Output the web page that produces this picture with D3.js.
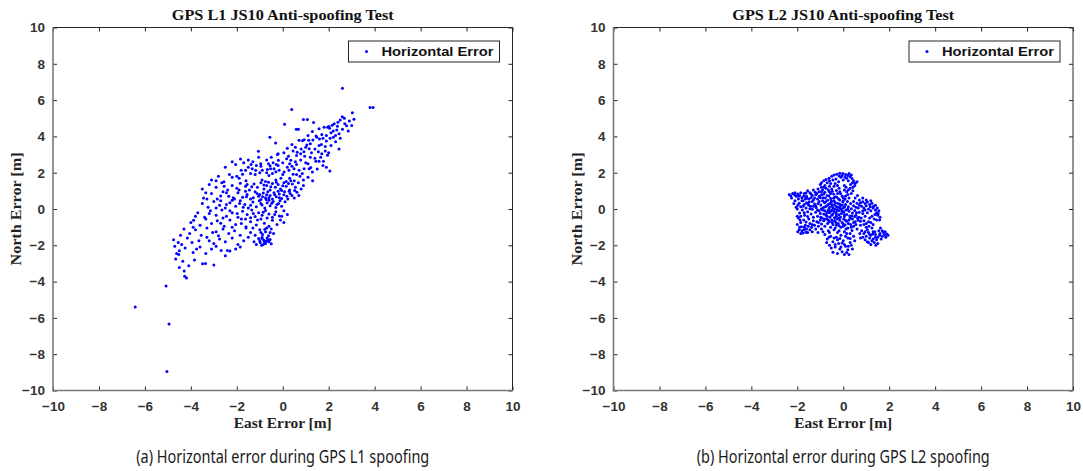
<!DOCTYPE html>
<html>
<head>
<meta charset="utf-8">
<script src="https://cdn.jsdelivr.net/npm/d3@7/dist/d3.min.js"></script>
<style>
  html, body { margin: 0; padding: 0; background: #fff; }
  svg { display: block; }
</style>
</head>
<body>
<svg id="chart" width="1083" height="471"></svg>
<script>
// Axis ticks (metres)
const tickValues = [-10, -8, -6, -4, -2, 0, 2, 4, 6, 8, 10];
const axisDomain = [-10, 10];

// Panel texts
const titles = ["GPS L1 JS10 Anti-spoofing Test", "GPS L2 JS10 Anti-spoofing Test"];
const captions = ["(a) Horizontal error during GPS L1 spoofing", "(b) Horizontal error during GPS L2 spoofing"];
const xLabel = "East Error [m]";
const yLabel = "North Error [m]";
const legendLabel = "Horizontal Error";

// Horizontal error samples, L1 spoofing: [east, north] in metres
const l1Errors = [
  [2.6,6.65],[3.8,5.59],[3.93,5.59],[3.03,5.3],[0.39,5.48],[0.9,4.93],[1.07,4.93],[1.34,4.76],[0.08,4.67],
  [2.24,4.7],[2.4,4.78],[2.59,5.08],[2.68,5.0],[2.78,4.58],[2.38,4.56],[2.15,4.62],[1.95,4.5],[2.9,4.85],
  [2.5,4.9],[3.1,4.95],[2.0,4.55],[2.7,4.7],
  [0.59,4.4],[0.68,4.4],[1.29,4.27],[1.58,4.42],[1.8,4.5],[2.04,4.45],[2.2,4.3],[2.45,4.15],[1.7,4.1],
  [1.9,4.05],[2.1,4.2],[2.35,4.35],[1.45,4.02],[2.6,4.4],[1.1,4.05],
  [-0.56,3.95],[-0.31,3.64],[0.71,3.79],[0.86,3.76],[0.93,3.81],[1.13,3.79],[1.31,3.8],[1.48,3.95],
  [1.6,3.85],[1.75,3.9],[1.9,3.75],[2.06,3.9],[1.58,3.5],[1.68,3.55],[1.2,3.6],[0.4,3.55],[2.3,3.7],
  [1.05,3.52],[2.2,3.95],
  [-1.06,3.18],[1.0,3.4],[1.15,3.32],[0.63,3.12],[0.78,3.05],[0.92,3.15],[0.45,3.2],[1.4,3.3],[1.7,3.05],
  [0.2,3.35],[-0.2,3.05],[0.05,3.1],[1.25,3.1],[0.55,3.4],[1.85,3.45],
  [-0.23,3.0],[-0.19,2.68],[0.17,2.77],[0.35,2.68],[0.55,2.6],[0.78,2.7],[1.95,2.96],[1.44,2.63],[1.58,2.63],
  [1.77,2.63],[-1.84,2.75],[-1.5,2.7],[-1.38,2.45],[-1.15,2.4],[-0.96,2.5],[-0.7,2.7],[-0.62,2.5],
  [-0.42,2.55],[-0.28,2.45],[0.0,2.55],[0.95,2.9],[1.2,2.85],[-1.05,2.85],[-2.2,2.6],[0.6,2.95],[1.0,2.55],
  [-2.32,1.9],[-2.0,1.8],[-1.81,2.13],[-1.62,2.13],[-1.33,2.22],[-1.18,2.13],[-0.89,2.13],[-0.67,2.17],
  [-0.53,2.22],[-0.38,2.22],[-0.16,2.13],[0.06,2.04],[0.27,2.13],[0.49,2.22],[0.71,2.13],[0.93,2.22],
  [1.15,2.22],[1.29,2.04],[1.22,2.28],[-0.95,2.35],[-0.2,2.4],[0.4,2.35],[-1.5,2.3],[0.85,1.95],
  [1.9,2.3],[2.05,2.1],[1.75,2.4],
  [-2.56,1.5],[-2.2,1.75],[-1.9,1.7],[-1.6,1.55],[-1.2,1.9],[-0.9,1.6],[-0.6,1.85],[-0.3,1.6],[0.0,1.9],
  [0.3,1.7],[0.5,1.55],[0.75,1.8],[0.9,1.6],[-1.4,1.95],[-0.45,1.95],[0.15,1.52],[-2.9,1.55],[-0.75,1.52],
  [0.6,1.9],[-1.75,1.92],
  [-3.5,1.1],[-3.2,1.35],[-2.9,1.2],[-2.65,1.45],[-2.4,1.05],[-2.2,1.3],[-2.0,1.15],[-1.85,1.42],[-1.62,1.25],
  [-1.45,1.05],[-1.25,1.38],[-1.1,1.2],[-0.95,1.45],[-0.82,1.1],[-0.7,1.3],[-0.55,1.05],[-0.45,1.4],
  [-0.32,1.2],[-0.2,1.35],[-0.1,1.1],[0.05,1.45],[0.15,1.25],[0.3,1.05],[0.42,1.38],[0.55,1.2],[0.68,1.45],
  [0.8,1.1],[-0.62,1.48],[-1.35,1.22],[0.25,1.4],[-0.05,1.02],[-2.55,1.25],
  [-3.45,0.6],[-3.1,0.85],[-2.85,0.55],[-2.6,0.95],[-2.35,0.7],[-2.1,0.55],[-1.95,0.9],[-1.75,0.65],
  [-1.55,0.8],[-1.4,0.55],[-1.2,0.95],[-1.05,0.7],[-0.95,0.52],[-0.85,0.88],[-0.75,0.62],[-0.65,0.95],
  [-0.55,0.75],[-0.45,0.55],[-0.38,0.9],[-0.28,0.68],[-0.15,0.82],[-0.05,0.58],[0.08,0.95],[0.18,0.7],
  [0.32,0.85],[0.5,0.6],[0.62,0.92],[-1.0,0.8],[-0.7,0.78],[-0.2,0.98],[-1.62,0.98],[-2.7,0.72],
  [-3.5,0.3],[-3.25,0.1],[-3.0,0.42],[-2.75,0.2],[-2.5,0.05],[-2.3,0.35],[-2.05,0.15],[-1.85,0.45],
  [-1.65,0.25],[-1.5,0.05],[-1.3,0.38],[-1.15,0.12],[-1.02,0.45],[-0.9,0.22],[-0.78,0.05],[-0.68,0.35],
  [-0.55,0.18],[-0.42,0.42],[-0.3,0.08],[-0.18,0.3],[-0.05,0.15],[0.1,0.4],[-0.95,0.3],[-0.6,0.48],
  [-2.2,0.48],[-1.4,0.2],
  [-3.7,-0.2],[-3.4,-0.45],[-3.15,-0.1],[-2.9,-0.35],[-2.65,-0.05],[-2.45,-0.4],[-2.2,-0.2],[-1.95,-0.45],
  [-1.75,-0.12],[-1.55,-0.3],[-1.35,-0.05],[-1.2,-0.42],[-1.05,-0.2],[-0.9,-0.35],[-0.75,-0.08],
  [-0.6,-0.28],[-0.45,-0.45],[-0.3,-0.15],[-0.15,-0.38],[0.05,-0.1],[0.2,-0.3],[-1.4,-0.48],[-2.3,-0.1],
  [-3.88,-0.62],[-3.6,-0.9],[-3.35,-0.55],[-3.1,-0.8],[-2.85,-0.65],[-2.55,-0.95],[-2.3,-0.6],[-2.05,-0.85],
  [-1.8,-0.55],[-1.6,-0.98],[-1.4,-0.7],[-1.15,-0.88],[-0.95,-0.55],[-0.8,-0.78],[-0.6,-0.95],[-0.45,-0.62],
  [-0.25,-0.85],[-0.1,-0.6],[0.05,-0.75],[-2.7,-0.78],
  [-4.3,-1.1],[-4.05,-1.35],[-3.8,-1.15],[-3.55,-1.45],[-3.3,-1.05],[-3.05,-1.3],[-2.8,-1.48],[-2.6,-1.1],
  [-2.35,-1.35],[-2.1,-1.2],[-1.85,-1.45],[-1.6,-1.05],[-1.4,-1.3],[-1.2,-1.45],[-1.0,-1.15],[-0.88,-1.4],
  [-0.75,-1.25],[-0.62,-1.48],[-0.5,-1.1],[-0.4,-1.35],[-0.95,-1.3],[-0.7,-1.05],
  [-4.75,-1.7],[-4.4,-1.95],[-4.15,-1.6],[-3.95,-1.85],[-3.65,-1.75],[-3.3,-1.55],[-3.0,-1.9],[-2.75,-1.65],
  [-2.5,-1.8],[-2.2,-1.6],[-1.95,-1.95],[-1.7,-1.75],[-1.5,-1.55],[-1.25,-1.8],[-1.05,-1.62],[-0.98,-1.85],
  [-0.9,-1.55],[-0.82,-1.72],[-0.75,-1.9],[-0.68,-1.6],[-0.6,-1.8],[-0.55,-1.68],[-0.85,-1.95],[-0.72,-1.78],
  [-4.7,-2.05],[-4.5,-2.3],[-4.25,-2.15],[-3.9,-2.4],[-3.6,-2.1],[-3.35,-2.45],[-3.1,-2.2],[-2.68,-2.28],
  [-2.41,-2.28],[-2.3,-2.32],[-2.05,-2.2],[-1.85,-2.1],[-2.9,-2.05],[-4.62,-2.45],[-4.53,-2.5],
  [-2.5,-2.57],[-4.66,-2.75],[-4.35,-2.88],[-4.09,-3.12],[-3.84,-2.81],[-3.49,-3.01],[-3.36,-3.0],
  [-3.0,-3.08],[-4.5,-3.23],[-4.29,-3.42],[-4.27,-3.71],[-4.19,-3.8],[-5.08,-4.24],[-6.42,-5.4],
  [-4.95,-6.33],[-5.04,-8.96],
  [-2.45,0.9],[-2.15,0.62],[-1.88,0.3],[-1.58,0.68],[-1.28,0.62],[-1.12,0.85],[-0.88,0.68],[-0.6,0.62],
  [-0.35,0.78],[-0.12,0.45],[0.22,0.55],[0.4,0.75],[-0.82,1.32],[-0.52,1.22],[-0.28,1.48],[0.0,1.28],
  [0.35,1.55],[-1.55,1.35],[-1.9,1.05],[-2.7,0.45],[-3.2,-0.25],[-2.6,-0.5],[-1.98,-0.25],[-1.62,-0.55],
  [-1.1,-0.6],[-0.68,-0.5],[-0.35,-0.3],[-0.05,-0.4],[-0.85,-0.18],[-1.28,-0.25],[-1.8,-0.8],[-2.2,-1.0],
  [-1.3,-1.05],[-0.78,-1.12],[-0.55,-1.3],[-0.9,-1.62],[-0.65,-1.7],[-0.8,-1.82],[-1.0,-1.75],[-0.5,-1.92],
  [-1.15,-1.95],[-0.92,-2.0],[-3.2,-1.75],[-2.9,-1.25],[-3.9,-1.0],[-4.55,-1.85],[-3.75,-2.2],[-0.25,0.25],
  [-0.48,0.32],[-0.72,0.52],[-0.15,0.62],[0.05,0.78],[0.28,0.98],[0.52,1.02],[0.7,0.75],[-1.72,0.1],
  [-2.45,0.25],[-2.9,0.05],[-3.3,0.55],[-0.7,2.0],[-0.3,2.05],[0.2,2.3],[0.6,2.45],[1.1,2.5],[1.4,2.8],
  [1.55,3.15],[2.1,3.5],[2.5,3.9],[2.85,4.3],[3.0,4.6],[2.3,4.05],[0.8,3.3],[0.25,2.9],[-0.5,2.85],
  [-1.3,2.6],[-2.5,2.3],[-2.8,1.8],[-3.1,1.6],[-3.35,0.9],[-3.8,-0.4],[-4.0,-0.75],[-4.45,-1.45],[0.9,1.3],
  [1.1,1.75],[1.3,1.55],[1.5,2.2],[-0.08,1.7],[0.45,1.92],[-1.0,2.0],[-2.05,2.45],[-1.7,2.55],[-0.55,2.38],
  [0.3,2.5],[1.65,2.85],[1.85,3.2],[2.45,3.3],[2.0,3.1]
];

// Horizontal error samples, L2 spoofing: [east, north] in metres
const l2Errors = [
  [-0.95,1.45],[-0.85,1.55],[-0.75,1.62],[-0.62,1.7],[-0.5,1.8],[-0.4,1.88],[-0.28,1.92],[-0.15,1.97],
  [-0.02,1.95],[0.1,1.9],[0.2,1.85],[0.3,1.78],[0.38,1.68],[0.45,1.55],[0.52,1.42],[0.5,1.3],[0.42,1.2],
  [0.3,1.15],[-0.1,1.75],[0.0,1.6],[-0.2,1.5],[-0.35,1.4],[-0.6,1.25],[-0.8,1.3],[-0.05,1.85],[0.15,1.7],
  [-0.45,1.6],[-0.7,1.45],[0.25,1.95],[0.35,1.88],
  [-2.35,0.8],[-2.2,0.85],[-2.05,0.7],[-2.1,0.9],[-1.9,0.75],[-1.8,0.62],[-1.7,0.85],[-1.6,0.7],[-1.5,0.55],
  [-1.45,0.9],[-1.35,0.75],[-1.25,0.6],[-1.15,0.85],[-1.05,0.7],[-0.95,0.95],[-1.95,0.55],[-1.55,1.0],
  [-1.3,1.05],[-1.1,1.1],[-0.9,1.05],[-2.25,0.6],[-1.75,0.45],
  [-1.92,0.32],[-1.85,0.12],[-1.78,-0.05],[-1.9,-0.22],[-1.7,0.25],[-1.62,0.05],[-1.55,-0.15],[-1.68,-0.35],
  [-1.48,0.38],[-1.42,0.15],[-1.35,-0.02],[-1.4,-0.28],[-1.3,0.5],[-1.25,0.28],[-1.18,0.08],[-1.2,-0.18],
  [-1.12,-0.4],[-1.05,0.42],[-0.98,0.22],[-0.95,0.02],[-1.0,-0.25],[-0.92,-0.5],[-0.88,0.62],[-0.82,0.35],
  [-0.78,0.12],[-0.8,-0.1],[-0.75,-0.35],[-0.7,0.75],[-0.68,0.48],[-0.65,0.25],[-0.62,0.02],[-0.6,-0.2],
  [-0.58,-0.45],[-0.55,0.58],[-0.52,0.38],[-0.5,0.15],[-0.48,-0.05],[-0.45,-0.28],[-0.42,0.82],[-0.4,0.45],
  [-0.38,0.22],[-0.35,0.0],[-0.32,-0.18],[-0.3,-0.4],[-0.28,0.65],[-0.25,0.32],[-0.22,0.1],[-0.2,-0.1],
  [-0.18,-0.32],[-0.15,0.5],[-0.12,0.18],[-0.1,-0.02],[-0.08,-0.25],[-0.05,0.72],[-0.02,0.38],[0.0,0.05],
  [0.02,-0.15],[0.05,-0.42],[0.08,0.55],[0.1,0.25],[0.12,-0.05],[0.15,-0.3],[0.18,0.42],[0.22,0.12],
  [0.25,-0.12],[0.28,-0.38],[0.32,0.3],[0.35,0.02],[0.4,-0.22],[0.45,0.18],[0.5,-0.08],[0.55,-0.35],
  [0.6,0.32],[0.65,0.05],[0.7,-0.18],
  [-0.72,0.18],[-0.58,0.3],[-0.44,0.05],[-0.36,0.36],[-0.26,-0.04],[-0.16,0.28],[-0.66,-0.08],[-0.52,0.46],
  [-0.4,-0.14],[-0.3,0.14],[-0.86,0.08],[-0.76,0.4],[-0.14,0.06],[-0.04,0.22],[0.06,0.12],[-0.48,0.24],
  [-1.95,-0.5],[-1.85,-0.75],[-1.9,-1.0],[-1.8,-1.2],[-1.72,-0.6],[-1.65,-0.9],[-1.6,-1.1],[-1.55,-1.3],
  [-1.5,-0.55],[-1.45,-0.8],[-1.38,-1.0],[-1.3,-0.65],[-1.25,-0.9],[-1.15,-0.7],[-1.08,-0.95],[-1.0,-0.6],
  [-0.95,-0.82],[-0.85,-0.65],[-0.8,-0.95],[-0.72,-0.55],[-0.68,-0.8],[-0.6,-0.7],[-0.55,-1.0],[-0.5,-0.6],
  [-0.45,-0.85],[-0.38,-0.65],[-0.35,-1.05],[-0.28,-0.55],[-0.22,-0.8],[-0.15,-0.62],[-0.1,-1.0],
  [-0.05,-0.75],[0.02,-0.55],[0.08,-0.88],[0.15,-0.68],[0.2,-1.05],[0.25,-0.6],[0.32,-0.85],[0.4,-0.55],
  [0.45,-0.95],[0.52,-0.7],[0.6,-1.1],[0.65,-0.62],[-1.98,-1.25],[-2.0,-0.85],[-1.75,-1.32],[-1.92,-1.15],
  [-1.8,0.45],[-1.65,0.55],[-1.2,0.78],[-1.0,0.62],[-0.85,0.82],[-0.6,0.95],[-0.3,1.02],[-0.15,0.95],
  [0.05,1.05],[-0.5,1.1],[-0.75,1.15],[-0.95,1.2],[0.15,0.95],[-1.5,0.2],[-2.15,0.3],[-2.05,0.1],
  [0.75,0.35],[0.85,0.4],[0.95,0.3],[1.05,0.38],[1.15,0.25],[1.25,0.32],[1.32,0.15],[0.8,0.15],[0.9,0.05],
  [1.0,0.18],[1.1,0.0],[1.2,-0.1],[1.3,0.05],[1.4,-0.05],[1.45,-0.2],[1.55,-0.1],[1.5,-0.35],[1.38,-0.3],
  [1.25,-0.4],[1.6,-0.45],[0.85,-0.25],[0.95,-0.4],[1.05,-0.2],[1.15,-0.5],[0.78,-0.5],[0.9,-0.65],
  [1.0,-0.8],[1.1,-0.7],[0.75,-0.9],[0.7,0.5],[1.0,0.5],
  [0.8,-1.2],[0.9,-1.35],[1.0,-1.5],[1.1,-1.3],[1.2,-1.45],[1.3,-1.25],[1.4,-1.4],[1.5,-1.55],[1.6,-1.35],
  [1.7,-1.5],[1.8,-1.42],[1.9,-1.38],[1.45,-1.7],[1.3,-1.65],[1.15,-1.6],[1.55,-1.2],[1.65,-1.65],
  [1.05,-1.15],[1.25,-1.05],[0.95,-1.7],[1.35,-1.85],[1.5,-1.9],[1.2,-1.95],[0.85,-1.55],[1.75,-1.3],
  [-0.8,-1.4],[-0.7,-1.65],[-0.55,-1.5],[-0.45,-1.8],[-0.3,-1.55],[-0.2,-1.9],[-0.1,-1.45],[0.0,-1.75],
  [0.1,-2.05],[0.2,-1.6],[0.3,-1.85],[0.4,-2.2],[0.45,-1.5],[-0.15,-2.2],[-0.05,-2.35],[0.15,-2.4],
  [-0.35,-2.1],[-0.6,-2.0],[0.05,-1.25],[-0.25,-1.3],[0.3,-1.35],[0.35,-2.0],[-0.45,-2.38],[0.25,-2.5],
  [-1.6,0.35],[-1.35,0.42],[-1.1,0.3],[-0.9,0.45],[-1.55,-0.42],[-1.3,-0.45],[-1.05,-0.1],[-0.85,-0.28],
  [-0.7,-0.4],[-0.55,-0.12],[-0.42,0.6],[-0.2,0.55],[0.0,0.45],[0.25,0.6],[0.45,0.42],[0.55,0.1],[0.3,-0.5],
  [0.1,-0.62],[-0.12,-0.45],[-0.38,-0.48],[-0.6,0.08],[-0.3,-0.28],[-0.05,-0.12],[0.2,0.0],[-0.9,-0.05],
  [-1.2,0.18],[-1.45,0.02],[-1.7,-0.2],[-1.85,-0.4],[-2.0,0.0],[-2.1,0.45],[-1.95,0.7],[-1.62,0.88],
  [-1.4,0.62],[-1.05,0.95],[-0.78,0.6],[-0.55,0.85],[-0.25,0.85],[0.1,0.72],[0.35,0.85],[0.22,1.05],
  [0.42,1.0],[-0.4,1.25],[-0.18,1.15],[0.05,1.3],[-0.65,1.05],[1.2,0.45],[1.4,0.2],[1.52,-0.25],[1.35,-0.55],
  [1.2,-0.75],[1.0,-1.0],[0.85,-0.1],[0.68,-0.45],[1.62,-1.05],[1.85,-1.55],[1.95,-1.45],[1.1,-1.85],
  [1.4,-1.55],[1.28,-1.38],[0.72,-1.35],[-0.65,-1.2],[-0.4,-1.15],[-0.18,-1.2],[0.15,-1.35],[0.38,-1.18],
  [-0.72,-1.85],[-0.52,-2.15],[-0.25,-1.7],[0.05,-1.95],[0.2,-2.25],[-0.1,-2.1],[-1.7,-1.0],[-1.45,-1.15],
  [-1.2,-1.1],[-0.95,-1.1],[-1.82,-0.98],[-1.62,-0.72],[-0.3,-0.9],[0.0,-0.95],[0.22,-0.8],[0.45,-0.75],
  [0.5,-0.42],[0.58,-0.2],
  [-2.28,0.72],[-2.12,0.78],[-1.98,0.82],[-1.85,0.9],[-1.72,0.7],[-1.58,0.6],[-1.4,0.82],[-1.22,0.92],
  [-1.12,0.55],[-0.95,0.78],[-0.8,0.92],[-0.62,0.72],[-0.48,0.98],[-0.35,0.68],[-0.12,0.85],[0.0,0.62],
  [0.2,0.8],[-0.82,-0.55],[-0.65,-0.62],[-0.48,-0.75],[-0.32,-0.75],[-0.18,-0.92],[0.0,-0.82],[0.12,-1.1],
  [0.35,-1.0],[0.55,-0.85],[-1.08,-0.75],[-1.35,-0.85],[-1.52,-0.95],[-1.7,-1.15],[-1.88,-0.6],[-2.0,-0.4],
  [-1.98,0.2],[-1.75,0.15],[-1.55,0.3],[-1.3,0.15],[-1.12,-0.05],[-0.98,-0.45],[-0.72,-0.2],[-0.5,-0.35],
  [-0.2,-0.5],[0.05,-0.3],[0.38,-0.38],[0.62,-0.5],[0.75,-0.68],[0.9,-0.85],[1.12,-0.95],[1.3,-0.85],
  [1.45,-0.6],[1.58,-0.6],[1.48,0.05],[1.18,0.12],[0.95,-0.05],[0.7,0.2],[0.52,0.6],[0.62,0.75],[0.85,0.6],
  [-0.25,1.3],[0.12,1.2],[0.32,1.35],[-0.55,1.4],[-0.85,1.2],[-1.0,1.35],[-0.32,1.65],[-0.18,1.82],
  [0.08,1.75],[0.22,1.55],[0.4,1.45],[-0.6,1.55],[0.6,1.5],[1.7,-1.2],[1.82,-1.25],[1.58,-1.45],
  [1.38,-1.25],[1.15,-1.4],[0.95,-1.25],[0.75,-1.6],[1.05,-1.8],[1.25,-1.75],[1.42,-2.0],[-0.62,-1.55],
  [-0.4,-1.6],[-0.15,-1.62],[0.1,-1.5],[0.3,-1.62],[0.5,-1.75],[-0.35,-1.95],[-0.05,-1.88],[0.22,-2.05],
  [-0.25,-2.45],[0.05,-2.5],[-0.6,-1.3],[-0.88,-1.25],[-1.1,-1.3],[-1.35,-1.25],[-1.62,-1.28],[-1.85,-1.35]
];

const seriesList = [l1Errors, l2Errors];

const svg = d3.select("#chart");
const plotTop = 27.5, plotBottom = 390.5;
const panelLefts = [53, 613.5];
const panelWidth = 459.5;
const tickFont = "bold 13.5px 'Liberation Sans', Arial, sans-serif";
const legendFont = "bold 13px 'Liberation Sans', Arial, sans-serif";
const serifBold = "'Liberation Serif', 'Times New Roman', serif";

seriesList.forEach((data, i) => {
  const left = panelLefts[i], right = left + panelWidth;
  const x = d3.scaleLinear().domain(axisDomain).range([left, right]);
  const y = d3.scaleLinear().domain(axisDomain).range([plotBottom, plotTop]);
  const g = svg.append("g");

  // axes with inward ticks
  const styleAxis = sel => {
    sel.select(".domain").remove();
    sel.selectAll(".tick line").attr("stroke", "#262626");
    sel.selectAll(".tick text").attr("fill", "#333").style("font", tickFont);
  };
  g.append("g").attr("transform", `translate(0,${plotBottom})`)
    .call(d3.axisBottom(x).tickValues(tickValues).tickSize(-4).tickPadding(11).tickFormat(d3.format("d")))
    .call(styleAxis);
  g.append("g").attr("transform", `translate(${left},0)`)
    .call(d3.axisLeft(y).tickValues(tickValues).tickSize(-4).tickPadding(8).tickFormat(d3.format("d")))
    .call(styleAxis);
  g.append("g").attr("transform", `translate(0,${plotTop})`)
    .call(d3.axisTop(x).tickValues(tickValues).tickSize(-4).tickFormat(""))
    .call(styleAxis);
  g.append("g").attr("transform", `translate(${right},0)`)
    .call(d3.axisRight(y).tickValues(tickValues).tickSize(-4).tickFormat(""))
    .call(styleAxis);

  // frame: top/right dark, left/bottom heavier grey
  g.append("line").attr("x1", left).attr("x2", right).attr("y1", plotTop).attr("y2", plotTop)
    .attr("stroke", "#262626").attr("stroke-width", 1);
  g.append("line").attr("x1", right).attr("x2", right).attr("y1", plotTop).attr("y2", plotBottom)
    .attr("stroke", "#262626").attr("stroke-width", 1);
  g.append("line").attr("x1", left).attr("x2", left).attr("y1", plotTop).attr("y2", plotBottom + 0.8)
    .attr("stroke", "#7a7a7a").attr("stroke-width", 1.6);
  g.append("line").attr("x1", left - 0.8).attr("x2", right).attr("y1", plotBottom).attr("y2", plotBottom)
    .attr("stroke", "#7a7a7a").attr("stroke-width", 1.6);

  // scatter
  g.append("g").selectAll("circle").data(data).join("circle")
    .attr("cx", d => x(d[0])).attr("cy", d => y(d[1]))
    .attr("r", 1.5).attr("fill", "#0000ff");

  // legend
  const lgW = 151, lgH = 21;
  const lgX = right - 13 - lgW, lgY = 41;
  g.append("rect").attr("x", lgX).attr("y", lgY).attr("width", lgW).attr("height", lgH)
    .attr("fill", "#fff").attr("stroke", "#262626").attr("stroke-width", 1);
  g.append("circle").attr("cx", lgX + 18).attr("cy", lgY + lgH / 2).attr("r", 1.5).attr("fill", "#0000ff");
  g.append("text").attr("x", lgX + 33).attr("y", lgY + lgH / 2 + 4.6)
    .style("font", legendFont).attr("fill", "#111")
    .attr("textLength", 112).attr("lengthAdjust", "spacingAndGlyphs").text(legendLabel);

  const cx = (left + right) / 2;
  const serifText = (sel, size) => sel
    .style("font-family", serifBold).style("font-weight", "bold").style("font-size", size)
    .attr("lengthAdjust", "spacingAndGlyphs");
  // title
  g.append("text").attr("x", cx).attr("y", 19.5).attr("text-anchor", "middle")
    .call(serifText, "15px").attr("textLength", 222)
    .attr("fill", "#111").text(titles[i]);
  // x label
  g.append("text").attr("x", cx).attr("y", 428).attr("text-anchor", "middle")
    .call(serifText, "15px").attr("textLength", 98)
    .attr("fill", "#222").text(xLabel);
  // y label
  g.append("text").attr("transform", `translate(${left - 32},${(plotTop + plotBottom) / 2}) rotate(-90)`)
    .attr("text-anchor", "middle")
    .call(serifText, "15px").attr("textLength", 113)
    .attr("fill", "#222").text(yLabel);
  // caption
  g.append("text").attr("x", cx).attr("y", 463).attr("text-anchor", "middle")
    .style("font-family", "'Noto Sans', 'Open Sans', sans-serif").style("font-size", "18.5px")
    .attr("textLength", 293).attr("lengthAdjust", "spacingAndGlyphs")
    .attr("fill", "#1a1a1a").text(captions[i]);
});
</script>
</body>
</html>
